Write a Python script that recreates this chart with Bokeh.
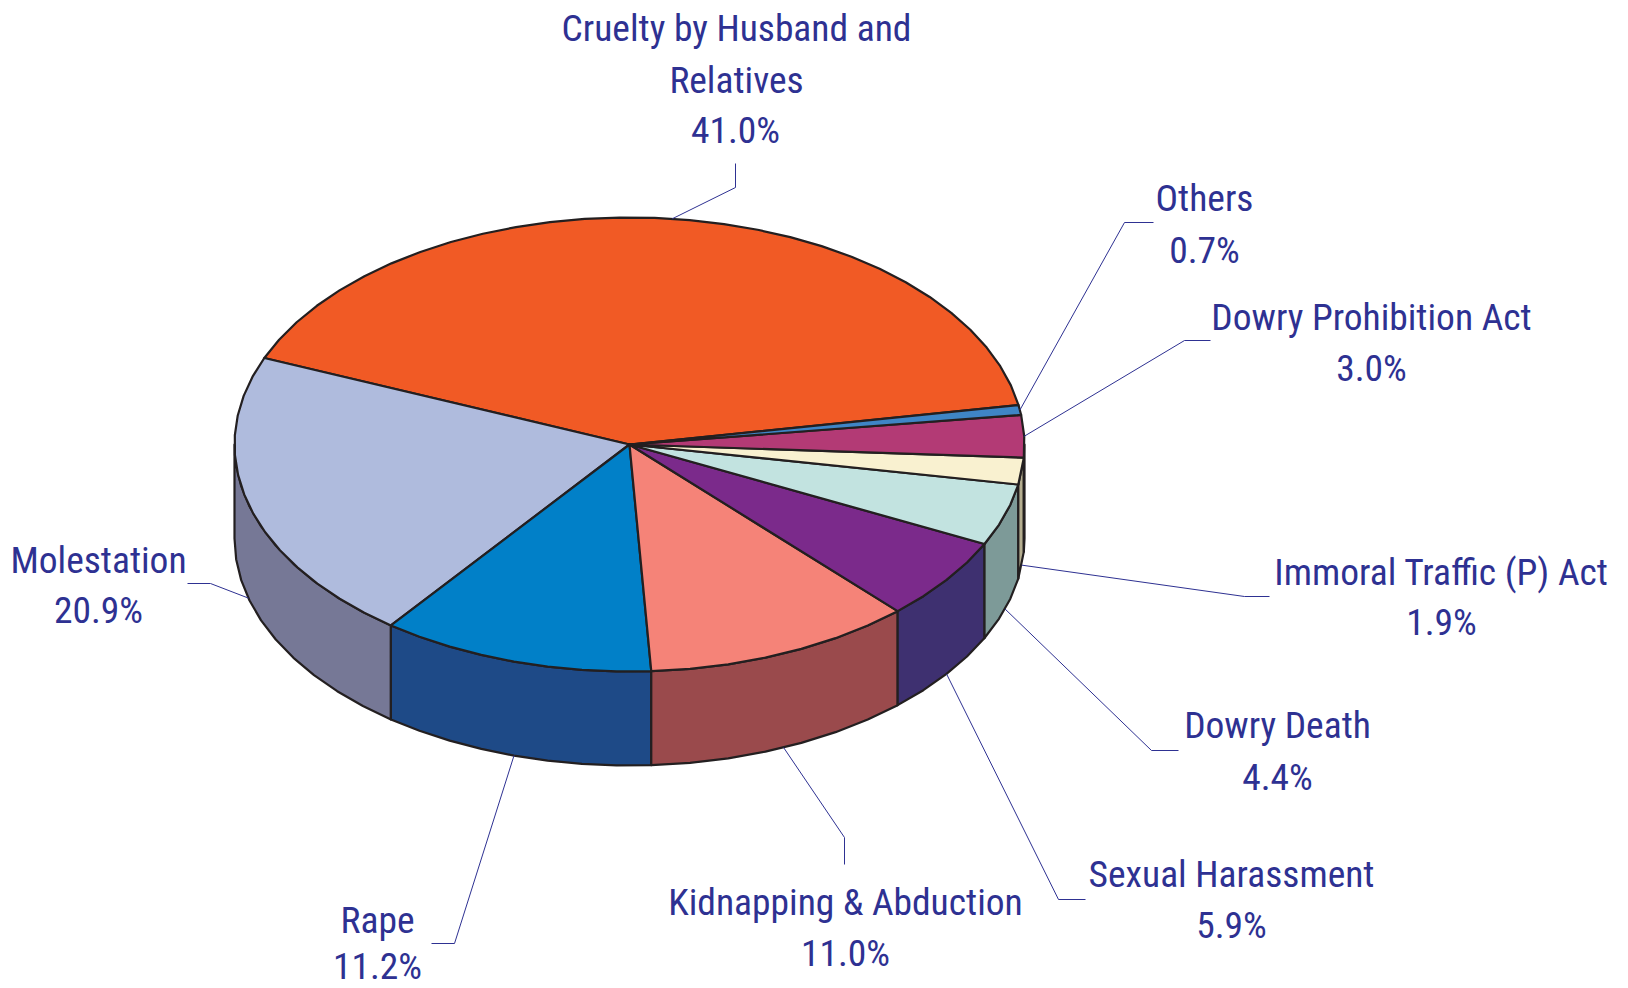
import math
from bokeh.plotting import figure
from bokeh.models import ColumnDataSource
from bokeh.core.properties import value
from bokeh.embed import file_html
from bokeh.resources import INLINE

categories = ["Cruelty by Husband and Relatives", "Molestation", "Rape", "Kidnapping & Abduction",
              "Sexual Harassment", "Dowry Death", "Immoral Traffic (P) Act", "Dowry Prohibition Act", "Others"]
shares = [41.0, 20.9, 11.2, 11.0, 5.9, 4.4, 1.9, 3.0, 0.7]
top_colors = ["#F15A25", "#AFBBDD", "#0180C8", "#F58378", "#7B2A8B", "#C2E3E0", "#F9F1D0", "#B33A75", "#3F85C6"]
side_colors = ["#A03A18", "#767896", "#1E4A87", "#9A4A4C", "#3E3070", "#7D9A98", "#B5AE90", "#6E2449", "#2A5A88"]

# Layout (page pixels): label lines (centre x, centre y) and leader bends, per category
label_lines = [
    [("Cruelty by Husband and", 736, 27), ("Relatives", 736, 79), ("41.0%", 735, 129)],
    [("Molestation", 98, 559), ("20.9%", 98, 609)],
    [("Rape", 377, 919), ("11.2%", 377, 965)],
    [("Kidnapping & Abduction", 845, 901), ("11.0%", 845, 952)],
    [("Sexual Harassment", 1231, 873), ("5.9%", 1231, 924)],
    [("Dowry Death", 1277, 724), ("4.4%", 1277, 776)],
    [("Immoral Traffic (P) Act", 1441, 571), ("1.9%", 1441, 621)],
    [("Dowry Prohibition Act", 1371, 316), ("3.0%", 1371, 367)],
    [("Others", 1204, 197), ("0.7%", 1204, 249)],
]
leader_bends = [
    [(735, 163), (735, 187)],
    [(187, 583), (210, 583)],
    [(431, 943), (454, 943)],
    [(844, 864), (844, 837)],
    [(1085, 899), (1058, 899)],
    [(1178, 750), (1151, 750)],
    [(1269, 596), (1244, 596)],
    [(1210, 340), (1184, 340)],
    [(1153, 222), (1124, 222)],
]

CX, CY, RX, RY, DEPTH = 629, 444, 395, 227, 94
START = 10.0
STEP = 5.0
INK = "#231F20"
BLUE = "#2E3192"
FONT = "Roboto Condensed"


def pt(t, dy=0):
    r = math.radians(t)
    return CX + RX * math.cos(r), CY - RY * math.sin(r) + dy


def arc(a, b, dy=0):
    n = max(1, int(abs(b - a) / STEP))
    return [pt(a + (b - a) * i / n, dy) for i in range(n + 1)]


total = sum(shares)
bounds = [START]
for s in shares:
    bounds.append(bounds[-1] + s / total * 360)

p = figure(width=1628, height=988, x_range=(0, 1628), y_range=(988, 0),
           output_backend="svg", toolbar_location=None, min_border=0)
p.axis.visible = False
p.grid.visible = False
p.outline_line_color = None

# walls of the front half
wx, wy, wc = [], [], []
for i, (a, b) in enumerate(zip(bounds[:-1], bounds[1:])):
    for k in (-360, 0):
        lo, hi = max(a + k, 180), min(b + k, 360)
        if lo < hi:
            front = arc(lo, hi)
            back = arc(hi, lo, DEPTH)
            poly = front + back
            wx.append([q[0] for q in poly])
            wy.append([q[1] for q in poly])
            wc.append(side_colors[i])
p.patches(wx, wy, fill_color=wc, line_color=INK, line_width=2.2, line_join="round")

# top face
tx, ty = [], []
for a, b in zip(bounds[:-1], bounds[1:]):
    poly = [(CX, CY)] + arc(a, b)
    tx.append([q[0] for q in poly])
    ty.append([q[1] for q in poly])
p.patches(tx, ty, fill_color=top_colors, line_color=INK, line_width=2.2, line_join="round")

# leader lines
lx, ly = [], []
for i, bends in enumerate(leader_bends):
    mid = (bounds[i] + bounds[i + 1]) / 2
    on_wall = math.sin(math.radians(mid)) < -0.1
    end = pt(mid, DEPTH if on_wall else 0)
    pts = bends + [end]
    lx.append([q[0] for q in pts])
    ly.append([q[1] for q in pts])
p.multi_line(lx, ly, line_color=BLUE, line_width=1)

# labels
rows = [r for lines in label_lines for r in lines]
src = ColumnDataSource(dict(t=[r[0] for r in rows], x=[r[1] for r in rows], y=[r[2] for r in rows]))
p.text("x", "y", text="t", source=src, text_align="center", text_baseline="middle",
       text_color=BLUE, text_font=value(FONT), text_font_size="37.5px")

open("out.html", "w").write(file_html(p, INLINE))
